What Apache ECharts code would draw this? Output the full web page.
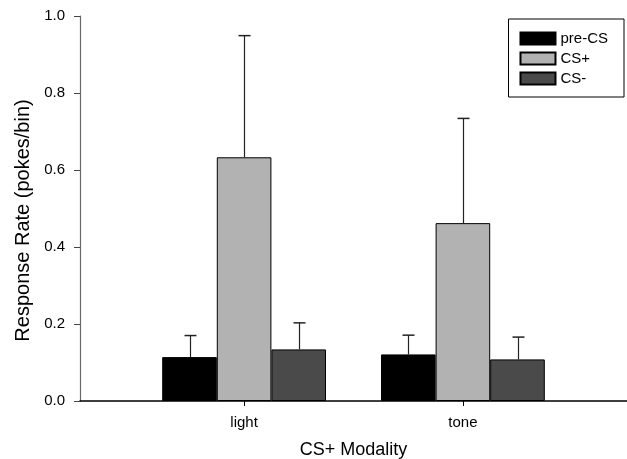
<!DOCTYPE html>
<html>
<head>
<meta charset="utf-8">
<script src="https://cdn.jsdelivr.net/npm/echarts@6/dist/echarts.min.js"></script>
<style>html,body{margin:0;padding:0;background:#fff;overflow:hidden}#c{width:627px;height:459px}</style>
</head>
<body>
<div id="c"></div>
<script>
// Data
var groups = ['light', 'tone'];
var seriesNames = ['pre-CS', 'CS+', 'CS-'];
var preCS = [0.114, 0.121];
var preCSErr = [0.056, 0.050];
var csPlus = [0.633, 0.462];
var csPlusErr = [0.316, 0.272];
var csMinus = [0.134, 0.108];
var csMinusErr = [0.069, 0.058];
var yTicks = [0.0, 0.2, 0.4, 0.6, 0.8, 1.0];

// Category axis with spacer slots so group centres sit where they do in the original
var cats = ['', groups[0], '', groups[1], ''];
function spread(vals) {
  var out = [];
  cats.forEach(function (c) {
    var gi = groups.indexOf(c);
    out.push(gi >= 0 ? vals[gi] : null);
  });
  return out;
}
function errData(vals, errs) {
  return groups.map(function (g, i) { return [g, vals[i], errs[i]]; });
}

var BAR_W = 54.6;
var colors = ['#000000', '#b2b2b2', '#4a4a4a'];
var means = [preCS, csPlus, csMinus];
var errs = [preCSErr, csPlusErr, csMinusErr];

var series = [];
seriesNames.forEach(function (n, k) {
  series.push({
    name: n, type: 'bar', data: spread(means[k]),
    barWidth: BAR_W, barGap: '0%',
    itemStyle: { color: colors[k], borderColor: '#000', borderWidth: 1 },
    emphasis: { disabled: true }, animation: false
  });
});
seriesNames.forEach(function (n, k) {
  var off = (k - 1) * BAR_W;
  series.push({
    type: 'custom', data: errData(means[k], errs[k]), z: 5,
    encode: { x: 0, y: 1 }, animation: false, silent: true,
    renderItem: function (params, api) {
      var p0 = api.coord([api.value(0), api.value(1)]);
      var p1 = api.coord([api.value(0), api.value(1) + api.value(2)]);
      var x = Math.round(p0[0] + off) + 0.5;
      return {
        type: 'group',
        children: [
          { type: 'line', shape: { x1: x, y1: p0[1], x2: x, y2: p1[1] }, style: { stroke: '#222', lineWidth: 1.2 } },
          { type: 'line', shape: { x1: x - 6, y1: p1[1], x2: x + 6, y2: p1[1] }, style: { stroke: '#222', lineWidth: 1.5 } }
        ]
      };
    }
  });
});

var chart = echarts.init(document.getElementById('c'), null, { renderer: 'canvas', width: 627, height: 459 });
chart.setOption({
  animation: false,
  backgroundColor: '#fff',
  textStyle: { fontFamily: 'Liberation Sans, Arial, sans-serif' },
  grid: { left: 80, right: 0, top: 16, bottom: 58, containLabel: false, outerBoundsMode: 'none' },
  legend: {
    data: seriesNames, orient: 'vertical', right: 3, top: 19,
    itemWidth: 35, itemHeight: 12, itemGap: 5,
    padding: [12, 16, 11, 11],
    borderColor: '#000', borderWidth: 1, backgroundColor: '#fff',
    icon: 'rect',
    textStyle: { fontSize: 15, color: '#000', fontFamily: 'Liberation Sans, Arial, sans-serif' },
    selectedMode: false
  },
  xAxis: {
    type: 'category', data: cats,
    name: 'CS+ Modality', nameLocation: 'middle', nameGap: 40,
    nameTextStyle: { fontSize: 18, color: '#000' },
    axisLine: { lineStyle: { color: '#000', width: 1.5 } },
    axisTick: { show: true, alignWithLabel: true, length: 5, lineStyle: { color: '#000' },
      interval: function (i, v) { return v !== ''; } },
    axisLabel: { interval: 0, margin: 14, fontSize: 15, color: '#000' },
    splitLine: { show: false }
  },
  yAxis: {
    type: 'value', min: 0, max: 1, interval: 0.2,
    name: 'Response Rate (pokes/bin)', nameLocation: 'middle', nameGap: 45,
    nameTextStyle: { fontSize: 20, color: '#000', padding: [0, 24, 0, 0] },
    axisLine: { show: true, lineStyle: { color: '#666', width: 1.2 } },
    axisTick: { show: true, length: 6, lineStyle: { color: '#444' } },
    axisLabel: { margin: 15, fontSize: 15, color: '#000',
      formatter: function (v) { return v.toFixed(1); } },
    splitLine: { show: false }
  },
  series: series
});
</script>
</body>
</html>
